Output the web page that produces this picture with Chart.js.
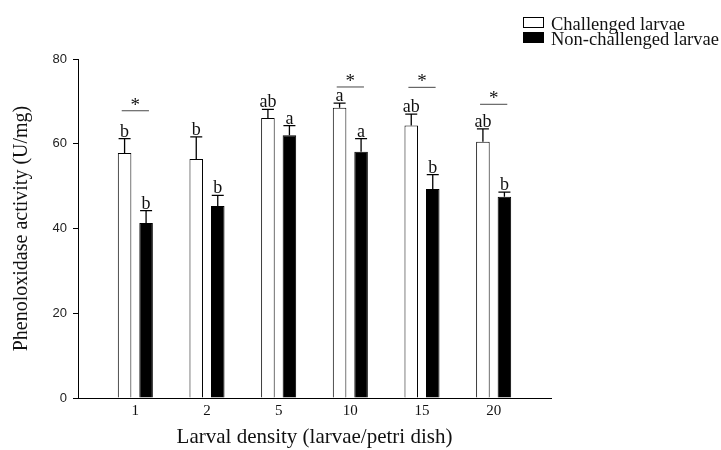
<!DOCTYPE html>
<html lang="en">
<head>
    <meta charset="UTF-8">
    <title>Phenoloxidase activity</title>
    <script src="https://cdn.jsdelivr.net/npm/chart.js"></script>
    <style>
        body {
            margin: 0;
            background-color: white;
        }
        .chart-container {
            width: 721px;
            height: 450px;
        }
    </style>
</head>
<body>
    <div class="chart-container">
        <canvas id="poChart" width="721" height="450"></canvas>
    </div>

    <script>
        // Values (bar height and upper error bar, U/mg)
        const densities = ['1', '2', '5', '10', '15', '20'];
        const challenged = [57.8, 56.4, 66.1, 68.5, 64.3, 60.5];
        const challengedErr = [3.4, 5.2, 2.0, 1.1, 2.7, 3.0];
        const nonChallenged = [41.3, 45.3, 62.0, 58.1, 49.3, 47.5];
        const nonChallengedErr = [2.9, 2.5, 2.3, 3.1, 3.4, 1.1];
        const challengedLetters = ['b', 'b', 'ab', 'a', 'ab', 'ab'];
        const nonChallengedLetters = ['b', 'b', 'a', 'a', 'b', 'b'];
        const starLevels = [67.8, null, null, 73.4, 73.3, 69.3]; // null = no star
        const yTicks = [0, 20, 40, 60, 80];

        const serif = '"Liberation Serif", "Times New Roman", serif';

        // error bars, letters and significance stars
        const annotations = {
            id: 'annotations',
            afterDatasetsDraw(chart) {
                const { ctx, scales: { x, y } } = chart;
                const errs = [challengedErr, nonChallengedErr];
                const letters = [challengedLetters, nonChallengedLetters];
                ctx.save();
                ctx.strokeStyle = '#000';
                ctx.fillStyle = '#111';
                ctx.textAlign = 'center';
                ctx.textBaseline = 'alphabetic';
                ctx.font = '18px ' + serif;
                chart.data.datasets.forEach((ds, d) => {
                    chart.getDatasetMeta(d).data.forEach((bar, i) => {
                        const capY = y.getPixelForValue(ds.data[i].y + errs[d][i]);
                        ctx.lineWidth = 1.3;
                        ctx.beginPath();
                        ctx.moveTo(bar.x, bar.y);
                        ctx.lineTo(bar.x, capY);
                        ctx.moveTo(bar.x - 6, capY);
                        ctx.lineTo(bar.x + 6, capY);
                        ctx.stroke();
                        ctx.fillText(letters[d][i], bar.x, capY - 2);
                    });
                });

                ctx.font = '19px ' + serif;
                starLevels.forEach((level, i) => {
                    if (level === null) return;
                    const ly = y.getPixelForValue(level);
                    ctx.strokeStyle = '#666';
                    ctx.lineWidth = 1.2;
                    ctx.beginPath();
                    ctx.moveTo(x.getPixelForValue(i - 0.19), ly);
                    ctx.lineTo(x.getPixelForValue(i + 0.19), ly);
                    ctx.stroke();
                    ctx.fillText('*', x.getPixelForValue(i), ly);
                });
                ctx.restore();
            }
        };

        // legend in the top right corner
        const boxLegend = {
            id: 'boxLegend',
            afterDraw(chart) {
                const ctx = chart.ctx;
                ctx.save();
                ctx.font = '18.5px ' + serif;
                ctx.textAlign = 'left';
                ctx.textBaseline = 'alphabetic';
                chart.data.datasets.forEach((ds, d) => {
                    const base = 30 + d * 15;
                    ctx.fillStyle = ds.backgroundColor;
                    ctx.strokeStyle = '#000';
                    ctx.lineWidth = 1;
                    ctx.fillRect(523.5, base - 12.5, 20, 10);
                    ctx.strokeRect(523.5, base - 12.5, 20, 10);
                    ctx.fillStyle = '#111';
                    ctx.fillText(ds.label, 551, base);
                });
                ctx.restore();
            }
        };

        const ctx = document.getElementById('poChart').getContext('2d');

        const chart = new Chart(ctx, {
            type: 'bar',
            data: {
                datasets: [
                    {
                        label: 'Challenged larvae',
                        data: challenged.map((v, i) => ({ x: i, y: v })),
                        backgroundColor: '#ffffff',
                        borderColor: '#000000',
                        borderWidth: 1
                    },
                    {
                        label: 'Non-challenged larvae',
                        data: nonChallenged.map((v, i) => ({ x: i, y: v })),
                        backgroundColor: '#000000',
                        borderColor: '#000000',
                        borderWidth: 1
                    }
                ]
            },
            options: {
                responsive: false,
                animation: false,
                categoryPercentage: 0.6,
                barPercentage: 0.63,
                layout: { padding: { left: 0, right: 170, top: 59, bottom: 0 } },
                scales: {
                    x: {
                        type: 'linear',
                        offset: false,
                        min: -0.8,
                        max: 5.8,
                        afterBuildTicks: (scale) => {
                            scale.ticks = densities.map((_, i) => ({ value: i }));
                        },
                        afterFit: (scale) => { scale.height = 52; },
                        grid: { display: false, drawTicks: false, offset: false },
                        border: { display: true, color: '#000', width: 1 },
                        ticks: {
                            autoSkip: false,
                            maxRotation: 0,
                            padding: 4,
                            color: '#111',
                            font: { family: serif, size: 15 },
                            callback: (value) => densities[value]
                        },
                        title: {
                            display: true,
                            text: 'Larval density (larvae/petri dish)',
                            color: '#111',
                            font: { family: serif, size: 21 },
                            padding: { top: 0, bottom: 0 }
                        }
                    },
                    y: {
                        min: 0,
                        max: 80,
                        afterBuildTicks: (scale) => {
                            scale.ticks = yTicks.map(v => ({ value: v }));
                        },
                        afterFit: (scale) => { scale.width = 78; },
                        grid: {
                            drawOnChartArea: false,
                            drawTicks: true,
                            tickLength: 5,
                            color: '#000'
                        },
                        border: { display: true, color: '#000', width: 1 },
                        ticks: {
                            padding: 6,
                            color: '#222',
                            font: { family: '"Liberation Sans", Arial, sans-serif', size: 13 }
                        },
                        title: {
                            display: true,
                            text: 'Phenoloxidase activity (U/mg)',
                            color: '#111',
                            font: { family: serif, size: 20 },
                            padding: { top: 10, bottom: 0 }
                        }
                    }
                },
                plugins: {
                    legend: { display: false },
                    tooltip: { enabled: false }
                }
            },
            plugins: [annotations, boxLegend]
        });
    </script>
</body>
</html>
